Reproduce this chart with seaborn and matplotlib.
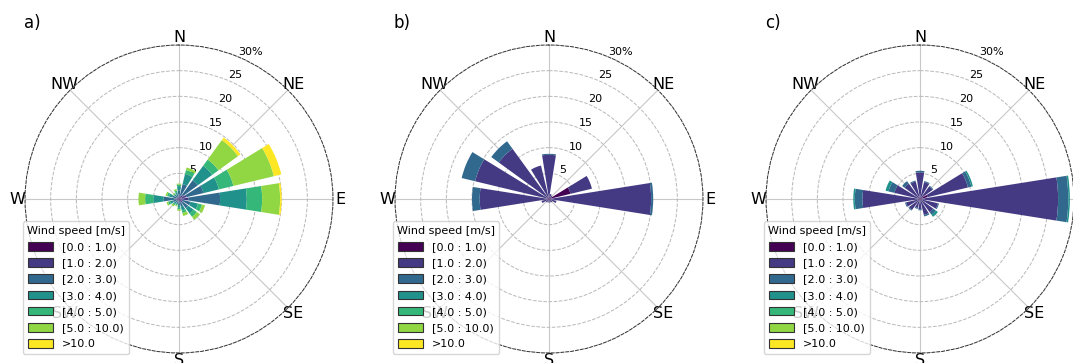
import numpy as np
import matplotlib
matplotlib.use('Agg')
import matplotlib.pyplot as plt
from matplotlib.patches import Rectangle
import seaborn as sns

# wind direction sectors (compass, clockwise from N)
directions = ['N', 'NNE', 'NE', 'ENE', 'E', 'ESE', 'SE', 'SSE',
              'S', 'SSW', 'SW', 'WSW', 'W', 'WNW', 'NW', 'NNW']
speed_labels = ['[0.0 : 1.0)', '[1.0 : 2.0)', '[2.0 : 3.0)', '[3.0 : 4.0)',
                '[4.0 : 5.0)', '[5.0 : 10.0)', '>10.0']
panel_names = ['a)', 'b)', 'c)']
radii = [5, 10, 15, 20, 25, 30]
radii_labels = ['5', '10', '15', '20', '25', '30%']
compass_labels = ['N', 'NE', 'E', 'SE', 'S', 'SW', 'W', 'NW']

# frequency (%) per speed bin (rows) for each of the 16 directions (columns)
#         N    NNE  NE   ENE  E    ESE  SE   SSE  S    SSW  SW   WSW  W    WNW  NW   NNW
freq_a = [[0.2, 0.2, 0.2, 0.3, 0.3, 0.2, 0.2, 0.2, 0.2, 0.1, 0.1, 0.1, 0.2, 0.1, 0.1, 0.1],
          [0.5, 0.5, 0.8, 1.2, 1.5, 0.6, 0.6, 0.5, 0.4, 0.3, 0.3, 0.4, 0.6, 0.4, 0.3, 0.3],
          [1.0, 2.3, 3.5, 3.4, 6.2, 1.5, 1.4, 0.8, 0.6, 0.4, 0.4, 0.7, 2.2, 0.8, 0.4, 0.5],
          [0.8, 2.0, 3.5, 3.1, 5.2, 1.5, 1.3, 0.8, 0.5, 0.3, 0.4, 0.6, 2.0, 0.7, 0.3, 0.5],
          [0.3, 0.8, 1.5, 2.9, 3.0, 0.8, 0.8, 0.5, 0.3, 0.2, 0.3, 0.4, 1.6, 0.4, 0.2, 0.3],
          [0.2, 0.5, 4.7, 8.1, 3.5, 0.6, 0.7, 0.6, 0.3, 0.2, 0.3, 0.3, 1.3, 0.3, 0.2, 0.3],
          [0.0, 0.0, 0.6, 1.5, 0.3, 0.0, 0.0, 0.0, 0.0, 0.0, 0.0, 0.0, 0.0, 0.0, 0.0, 0.0]]

freq_b = [[0.3, 0.2, 0.2, 4.3, 0.3, 0.3, 0.2, 0.2, 0.2, 0.2, 0.2, 0.3, 0.3, 0.3, 0.3, 0.3],
          [8.3, 0.8, 0.6, 4.3, 19.6, 1.2, 0.6, 0.5, 0.5, 0.5, 0.6, 1.2, 13.2, 14.5, 11.8, 6.4],
          [0.2, 0.0, 0.0, 0.0, 0.4, 0.0, 0.0, 0.0, 0.0, 0.0, 0.0, 0.0, 1.5, 2.7, 1.8, 0.0],
          [0.0, 0.0, 0.0, 0.0, 0.0, 0.0, 0.0, 0.0, 0.0, 0.0, 0.0, 0.0, 0.0, 0.0, 0.0, 0.0],
          [0.0, 0.0, 0.0, 0.0, 0.0, 0.0, 0.0, 0.0, 0.0, 0.0, 0.0, 0.0, 0.0, 0.0, 0.0, 0.0],
          [0.0, 0.0, 0.0, 0.0, 0.0, 0.0, 0.0, 0.0, 0.0, 0.0, 0.0, 0.0, 0.0, 0.0, 0.0, 0.0],
          [0.0, 0.0, 0.0, 0.0, 0.0, 0.0, 0.0, 0.0, 0.0, 0.0, 0.0, 0.0, 0.0, 0.0, 0.0, 0.0]]

freq_c = [[0.2, 0.2, 0.2, 1.5, 0.3, 0.3, 0.2, 0.2, 0.2, 0.2, 0.2, 0.2, 0.3, 0.3, 0.2, 0.2],
          [5.0, 3.2, 2.8, 8.1, 26.6, 3.3, 3.0, 3.0, 1.8, 1.6, 2.4, 2.6, 10.9, 4.8, 3.5, 3.3],
          [0.3, 0.2, 0.2, 0.7, 2.0, 0.2, 0.6, 0.3, 0.2, 0.2, 0.2, 0.2, 1.5, 1.2, 0.6, 0.2],
          [0.0, 0.0, 0.0, 0.3, 0.3, 0.0, 0.5, 0.0, 0.0, 0.0, 0.0, 0.0, 0.3, 0.6, 0.0, 0.0],
          [0.0, 0.0, 0.0, 0.0, 0.0, 0.0, 0.0, 0.0, 0.0, 0.0, 0.0, 0.0, 0.0, 0.0, 0.0, 0.0],
          [0.0, 0.0, 0.0, 0.0, 0.0, 0.0, 0.0, 0.0, 0.0, 0.0, 0.0, 0.0, 0.0, 0.0, 0.0, 0.0],
          [0.0, 0.0, 0.0, 0.0, 0.0, 0.0, 0.0, 0.0, 0.0, 0.0, 0.0, 0.0, 0.0, 0.0, 0.0, 0.0]]

sns.set_style('white')
plt.rcParams['font.family'] = ['DejaVu Sans']
plt.rcParams['text.color'] = 'black'
plt.rcParams['xtick.color'] = 'black'
plt.rcParams['ytick.color'] = 'black'

# viridis from dark purple to yellow, one colour per speed bin
cmap = sns.color_palette('viridis', as_cmap=True)
colors = [cmap(v) for v in np.linspace(0, 1, len(speed_labels))]

fig = plt.figure(figsize=(10.73, 3.63), dpi=100)

centers_x = [179, 549, 920]
center_y = 199
radius_px = 154
W, H = 1073, 363

theta = np.deg2rad(np.arange(len(directions)) * 22.5)
width = np.deg2rad(22.5) * 0.8

for i, freq in enumerate([freq_a, freq_b, freq_c]):
    left = (centers_x[i] - radius_px) / W
    bottom = 1 - (center_y + radius_px) / H
    ax = fig.add_axes([left, bottom, 2 * radius_px / W, 2 * radius_px / H], polar=True)
    ax.set_theta_zero_location('N')
    ax.set_theta_direction(-1)

    # stacked bars, one layer per speed bin
    cum = np.zeros(len(directions))
    for k in range(len(speed_labels)):
        vals = np.array(freq[k])
        ax.bar(theta, vals, width=width, bottom=cum, color=colors[k],
               edgecolor='none', linewidth=0, zorder=1)
        cum = cum + vals

    ax.set_ylim(0, 30)
    ax.set_rgrids(radii, labels=radii_labels, fontsize=8)
    ax.set_rlabel_position(22.5)
    ax.set_thetagrids(np.arange(0, 360, 45), labels=compass_labels, fontsize=11.5)
    ax.yaxis.grid(True, linestyle='--', color='#b8b8b8', linewidth=0.7)
    ax.xaxis.grid(True, linestyle='-', color='#c8c8c8', linewidth=0.8)
    ax.spines['polar'].set_linestyle((0, (3, 2)))
    ax.spines['polar'].set_linewidth(0.7)
    ax.spines['polar'].set_color('#333333')
    ax.tick_params(axis='x', pad=-5)

    handles = [Rectangle((0, 0), 1, 1, facecolor=c, edgecolor='#333333', linewidth=0.8)
               for c in colors]
    leg = ax.legend(handles, speed_labels, title='Wind speed [m/s]', loc='lower left',
                    bbox_to_anchor=(-0.008, -0.003), borderaxespad=0, fontsize=8,
                    title_fontsize=8, handlelength=2.2, handleheight=0.8,
                    labelspacing=0.55, framealpha=0.8)

    fig.text((centers_x[i] - 147) / W, 1 - 23 / H, panel_names[i], fontsize=12,
             ha='center', va='center')

fig.savefig('out.png', dpi=100)
